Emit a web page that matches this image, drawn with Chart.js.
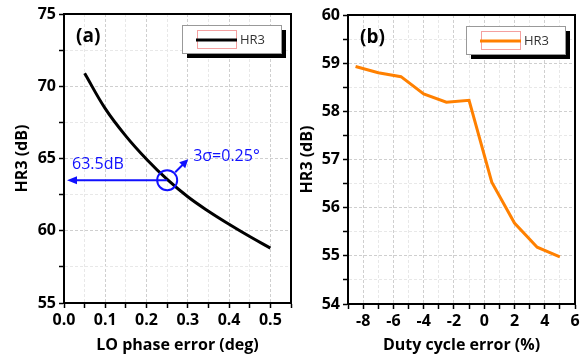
<!DOCTYPE html>
<html>
<head>
<meta charset="utf-8">
<script src="https://cdn.jsdelivr.net/npm/chart.js@4"></script>
<style>
    body { margin: 0; background: #fff; }
    #wrap { position: relative; width: 584px; height: 359px; }
    canvas { position: absolute; top: 0; }
    #chartA { left: 0; }
    #chartB { left: 292px; }
</style>
</head>
<body>
<div id="wrap">
    <canvas id="chartA" width="296" height="359"></canvas>
    <canvas id="chartB" width="292" height="359"></canvas>
</div>
<script>
// (a) HR3 vs LO phase error
const phaseError = [0.05, 0.1, 0.15, 0.2, 0.25, 0.3, 0.35, 0.4, 0.45, 0.5];
const hr3Phase = [70.9, 68.45, 66.55, 64.95, 63.55, 62.35, 61.35, 60.45, 59.6, 58.8];
const markPhase = 0.25;
const markHr3 = 63.5;

// (b) HR3 vs duty cycle error
const dutyError = [-8.5, -7, -5.5, -4, -2.5, -1, 0.5, 2, 3.5, 5];
const hr3Duty = [58.93, 58.8, 58.72, 58.36, 58.19, 58.23, 56.53, 55.68, 55.18, 54.98];

const FONT = '"Open Sans", Lato, sans-serif';

document.addEventListener('DOMContentLoaded', function () {

    function isMajor(v, step) {
        const r = v / step;
        return Math.abs(r - Math.round(r)) < 1e-6;
    }

    // frame, panel letter and legend box
    const framePlugin = {
        id: 'frame',
        afterDatasetsDraw(chart, args, opts) {
            const ctx = chart.ctx;
            const a = chart.chartArea;
            ctx.save();
            ctx.strokeStyle = '#000';
            ctx.lineWidth = 2;
            ctx.strokeRect(a.left, a.top, a.right - a.left, a.bottom - a.top);

            ctx.fillStyle = '#000';
            ctx.font = 'bold 19px ' + FONT;
            ctx.textBaseline = 'middle';
            ctx.fillText(opts.letter, a.left + 12, a.top + 23);

            // legend
            const ds = chart.data.datasets[0];
            const bx = a.left + 118, by = a.top + 11, bw = 99, bh = 28;
            ctx.fillStyle = '#000';
            ctx.fillRect(bx + 5, by + 5, bw, bh);
            ctx.fillStyle = '#fff';
            ctx.fillRect(bx, by, bw, bh);
            ctx.lineWidth = 1;
            ctx.strokeStyle = '#999';
            ctx.strokeRect(bx + 0.5, by + 0.5, bw, bh);
            ctx.strokeStyle = '#f4a0a0';
            ctx.strokeRect(bx + 15.5, by + 5.5, 39, 18);
            ctx.strokeStyle = ds.borderColor;
            ctx.lineWidth = 3;
            ctx.beginPath();
            ctx.moveTo(bx + 14, by + 15);
            ctx.lineTo(bx + 55, by + 15);
            ctx.stroke();
            ctx.fillStyle = '#333';
            ctx.font = '13px ' + FONT;
            ctx.fillText(ds.label, bx + 58, by + 15);
            ctx.restore();
        }
    };

    // blue marker on panel (a)
    const markPlugin = {
        id: 'mark',
        afterDatasetsDraw(chart) {
            if (chart.canvas.id !== 'chartA') return;
            const ctx = chart.ctx;
            const xs = chart.scales.x, ys = chart.scales.y;
            const cx = xs.getPixelForValue(markPhase);
            const cy = ys.getPixelForValue(markHr3);
            const left = xs.getPixelForValue(0) + 3;
            ctx.save();
            ctx.strokeStyle = '#1010ff';
            ctx.fillStyle = '#1010ff';
            ctx.lineWidth = 2;
            ctx.beginPath();
            ctx.arc(cx, cy, 10, 0, Math.PI * 2);
            ctx.stroke();
            // horizontal arrow
            ctx.beginPath();
            ctx.moveTo(cx, cy);
            ctx.lineTo(left + 8, cy);
            ctx.stroke();
            ctx.beginPath();
            ctx.moveTo(left, cy);
            ctx.lineTo(left + 10, cy - 4);
            ctx.lineTo(left + 10, cy + 4);
            ctx.closePath();
            ctx.fill();
            // small diagonal arrow
            ctx.beginPath();
            ctx.moveTo(cx + 8, cy - 8);
            ctx.lineTo(cx + 17, cy - 17);
            ctx.stroke();
            ctx.beginPath();
            ctx.moveTo(cx + 21, cy - 21);
            ctx.lineTo(cx + 12, cy - 18);
            ctx.lineTo(cx + 18, cy - 12);
            ctx.closePath();
            ctx.fill();
            ctx.font = '16px ' + FONT;
            ctx.textBaseline = 'middle';
            ctx.fillText(markHr3.toFixed(1) + 'dB', left + 5, cy - 16);
            ctx.fillText('3σ=' + markPhase + '°', cx + 26, cy - 24);
            ctx.restore();
        }
    };

    function axisX(min, max, step, labelStep, title, digits, h) {
        return {
            type: 'linear', min: min, max: max,
            afterFit(s) { s.height = h; },
            ticks: {
                stepSize: step, autoSkip: false, maxRotation: 0, padding: 3,
                color: '#000', font: { family: FONT, size: 16, weight: 'bold' },
                callback: v => isMajor(v, labelStep) ? v.toFixed(digits) : ''
            },
            grid: {
                color: c => isMajor(c.tick.value, labelStep) ? '#cfcfcf' : '#e8e8e8',
                lineWidth: 1, tickLength: 5, tickColor: '#000', tickWidth: 1.5, tickBorderDash: []
            },
            border: { color: '#000', width: 2, dash: [3, 2] },
            title: { display: true, text: title, color: '#000', padding: { top: 0, bottom: 4 },
                font: { family: FONT, size: 16, weight: 'bold' } }
        };
    }

    function axisY(min, max, step, labelStep, title, w, pad) {
        return {
            type: 'linear', min: min, max: max,
            afterFit(s) { s.width = w; },
            ticks: {
                stepSize: step, autoSkip: false, padding: 3,
                color: '#000', font: { family: FONT, size: 16, weight: 'bold' },
                callback: v => isMajor(v, labelStep) ? String(Math.round(v)) : ''
            },
            grid: {
                color: c => isMajor(c.tick.value, labelStep) ? '#cfcfcf' : '#e8e8e8',
                lineWidth: 1, tickLength: 5, tickColor: '#000', tickWidth: 1.5, tickBorderDash: []
            },
            border: { color: '#000', width: 2, dash: [3, 2] },
            title: { display: true, text: title, color: '#000', padding: { top: pad, bottom: 0 },
                font: { family: FONT, size: 16, weight: 'bold' } }
        };
    }

    function pts(xs, ys) {
        return xs.map((x, i) => ({ x: x, y: ys[i] }));
    }

    // (a)
    new Chart(document.getElementById('chartA'), {
        type: 'line',
        data: {
            datasets: [{
                label: 'HR3',
                data: pts(phaseError, hr3Phase),
                borderColor: '#000',
                borderWidth: 3,
                pointRadius: 0,
                tension: 0.4,
                fill: false,
            }],
        },
        options: {
            responsive: false,
            animation: false,
            layout: { padding: { top: 14, right: 5, left: 0, bottom: 0 } },
            plugins: { legend: { display: false }, tooltip: { enabled: false }, frame: { letter: '(a)' } },
            scales: {
                x: axisX(0, 0.55, 0.05, 0.1, 'LO phase error (deg)', 1, 56),
                y: axisY(55, 75, 2.5, 5, 'HR3 (dB)', 64, 13),
            },
        },
        plugins: [framePlugin, markPlugin],
    });

    // (b)
    new Chart(document.getElementById('chartB'), {
        type: 'line',
        data: {
            datasets: [{
                label: 'HR3',
                data: pts(dutyError, hr3Duty),
                borderColor: '#ff8000',
                borderWidth: 3,
                pointRadius: 0,
                tension: 0,
                fill: false,
            }],
        },
        options: {
            responsive: false,
            animation: false,
            layout: { padding: { top: 15, right: 9, left: 0, bottom: 0 } },
            plugins: { legend: { display: false }, tooltip: { enabled: false }, frame: { letter: '(b)' } },
            scales: {
                x: axisX(-9, 6, 1, 2, 'Duty cycle error (%)', 0, 55),
                y: axisY(54, 60, 0.5, 1, 'HR3 (dB)', 56, 6),
            },
        },
        plugins: [framePlugin],
    });
});
</script>
</body>
</html>
